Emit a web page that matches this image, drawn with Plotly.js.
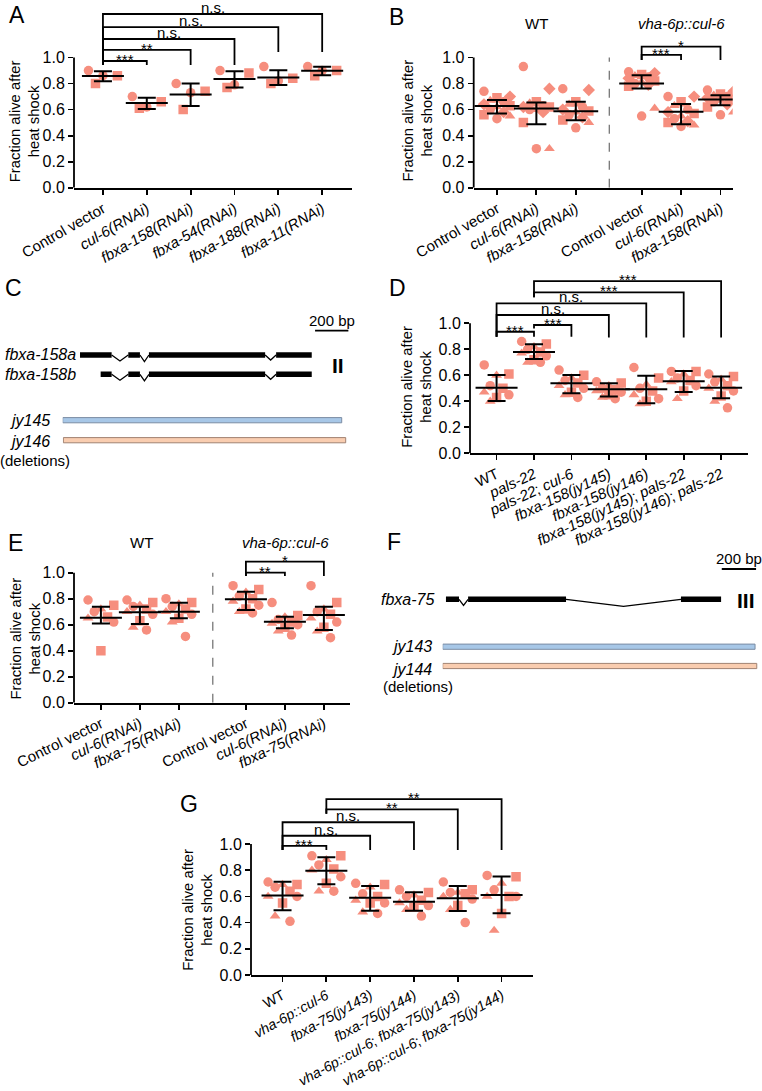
<!DOCTYPE html>
<html><head><meta charset="utf-8">
<script src="https://cdn.plot.ly/plotly-3.0.1.min.js"></script>
<style>body{margin:0;background:#fff}</style>
</head><body><div id="chart" style="width:762px;height:1091px"></div>
<script>
// ---------------- DATA ----------------
// Panel A
const A_labels = ['Control vector','<i>cul-6(RNAi)</i>','<i>fbxa-158(RNAi)</i>','<i>fbxa-54(RNAi)</i>','<i>fbxa-188(RNAi)</i>','<i>fbxa-11(RNAi)</i>'];
const A_values = [[0.90,0.86,0.86,0.80],[0.70,0.66,0.62,0.61],[0.80,0.74,0.73,0.60],[0.90,0.88,0.79,0.77],[0.93,0.84,0.82,0.80],[0.93,0.90,0.90,0.86]];
const A_center = [0.857,0.650,0.716,0.834,0.847,0.898];
const A_upper  = [0.895,0.691,0.801,0.895,0.903,0.928];
const A_lower  = [0.818,0.604,0.627,0.770,0.788,0.864];
const A_tests = [[0,1,'***'],[0,2,'**'],[0,3,'n.s.'],[0,4,'n.s.'],[0,5,'n.s.']];

// Panel B
const B_labels = ['Control vector','<i>cul-6(RNAi)</i>','<i>fbxa-158(RNAi)</i>','Control vector','<i>cul-6(RNAi)</i>','<i>fbxa-158(RNAi)</i>'];
const B_values = [
  [0.74,0.70,0.69,0.67,0.66,0.64,0.63,0.62,0.60,0.58,0.56,0.55,0.53],
  [0.93,0.76,0.66,0.65,0.63,0.62,0.62,0.60,0.60,0.58,0.50,0.30,0.30],
  [0.76,0.75,0.66,0.64,0.62,0.60,0.59,0.58,0.56,0.54,0.52,0.50,0.46],
  [0.89,0.88,0.87,0.86,0.85,0.84,0.82,0.81,0.80,0.79,0.78,0.61,0.55],
  [0.70,0.70,0.66,0.63,0.60,0.58,0.57,0.55,0.53,0.51,0.50,0.48,0.47],
  [0.75,0.74,0.72,0.71,0.70,0.69,0.68,0.67,0.66,0.64,0.62,0.58,0.56]];
const B_center = [0.627,0.609,0.588,0.800,0.583,0.678];
const B_upper  = [0.673,0.655,0.660,0.864,0.642,0.711];
const B_lower  = [0.570,0.488,0.519,0.762,0.488,0.634];
const B_tests = [[3,4,'***'],[3,5,'*']];

// Panel D
const D_labels = ['WT','<i>pals-22</i>','<i>pals-22</i>; <i>cul-6</i>','<i>fbxa-158(jy145)</i>','<i>fbxa-158(jy146)</i>','<i>fbxa-158(jy145)</i>; <i>pals-22</i>','<i>fbxa-158(jy146)</i>; <i>pals-22</i>'];
const D_values = [
  [0.68,0.61,0.60,0.52,0.50,0.47,0.45,0.43,0.40],
  [0.86,0.84,0.82,0.80,0.78,0.77,0.75,0.72,0.70,0.70],
  [0.64,0.60,0.58,0.56,0.54,0.52,0.50,0.47,0.45,0.43],
  [0.55,0.54,0.52,0.50,0.49,0.48,0.47,0.45,0.43,0.42],
  [0.66,0.58,0.53,0.50,0.48,0.45,0.42,0.40,0.38],
  [0.63,0.63,0.61,0.58,0.56,0.55,0.52,0.48,0.42],
  [0.61,0.59,0.57,0.55,0.52,0.50,0.48,0.44,0.40,0.35]];
const D_center = [0.505,0.779,0.538,0.492,0.492,0.554,0.505];
const D_upper  = [0.603,0.838,0.603,0.538,0.597,0.633,0.590];
const D_lower  = [0.403,0.726,0.462,0.436,0.385,0.472,0.423];
const D_tests = [[0,1,'***'],[1,2,'***'],[0,3,'n.s.'],[0,4,'n.s.'],[1,5,'***'],[1,6,'***']];

// Panel E
const E_labels = ['Control vector','<i>cul-6(RNAi)</i>','<i>fbxa-75(RNAi)</i>','Control vector','<i>cul-6(RNAi)</i>','<i>fbxa-75(RNAi)</i>'];
const E_values = [
  [0.79,0.75,0.72,0.70,0.66,0.65,0.62,0.40],
  [0.79,0.77,0.75,0.74,0.72,0.70,0.68,0.63,0.58,0.56],
  [0.80,0.77,0.76,0.74,0.72,0.70,0.68,0.65,0.62,0.51],
  [0.90,0.87,0.85,0.82,0.80,0.78,0.75,0.72,0.70,0.69],
  [0.77,0.67,0.66,0.64,0.62,0.61,0.60,0.58,0.55,0.52],
  [0.90,0.77,0.72,0.70,0.68,0.65,0.62,0.58,0.55,0.50]];
const E_center = [0.654,0.695,0.700,0.795,0.623,0.674];
const E_upper  = [0.738,0.738,0.769,0.854,0.662,0.738];
const E_lower  = [0.610,0.605,0.649,0.713,0.572,0.559];
const E_tests = [[3,4,'**'],[3,5,'*']];

// Panel G
const G_labels = ['WT','<i>vha-6p::cul-6</i>','<i>fbxa-75(jy143)</i>','<i>fbxa-75(jy144)</i>','<i>vha-6p::cul-6</i>; <i>fbxa-75(jy143)</i>','<i>vha-6p::cul-6</i>; <i>fbxa-75(jy144)</i>'];
const G_values = [
  [0.71,0.69,0.69,0.67,0.64,0.60,0.60,0.55,0.45,0.41],
  [0.91,0.91,0.88,0.84,0.81,0.80,0.75,0.70,0.64,0.64],
  [0.70,0.69,0.67,0.62,0.60,0.57,0.55,0.55,0.48,0.47],
  [0.65,0.63,0.61,0.60,0.57,0.55,0.53,0.52,0.50,0.45],
  [0.71,0.65,0.63,0.63,0.62,0.60,0.58,0.53,0.50,0.40],
  [0.76,0.75,0.70,0.65,0.60,0.60,0.60,0.47,0.34]];
const G_center = [0.606,0.796,0.590,0.560,0.585,0.611];
const G_upper  = [0.712,0.898,0.679,0.631,0.679,0.751];
const G_lower  = [0.494,0.692,0.491,0.491,0.489,0.471];
const G_tests = [[0,1,'***'],[0,2,'n.s.'],[0,3,'n.s.'],[1,4,'**'],[1,5,'**']];

// Gene diagrams (bp)
const C_exonsA = [[104,294],[394,464],[518,1216],[1282,1496]];
const C_exonsB = [[228,294],[394,464],[518,1216],[1282,1496]];
const C_introns = [[294,394],[464,518],[1216,1282]];
const C_deletions = [[0,1676],[4,1700]];
const C_deletionNames = ['jy145','jy146'];
const F_exons = [[19,95],[148,719],[1389,1623]];
const F_introns = [[95,148],[719,1389]];
const F_deletions = [[0,1821],[0,1831]];
const F_deletionNames = ['jy143','jy144'];
const SCALE_BP = 200;

// ---------------- LAYOUT HELPERS ----------------
const W=762,H=1091;
const px = v=>v/W, py = v=>1-v/H;
const FONT = 'Liberation Sans, Arial, sans-serif';
const PT = '#F68E7E';
const FS = 15;
const traces=[], shapes=[], annotations=[];
const layout = {width:W,height:H,margin:{l:0,r:0,t:0,b:0},paper_bgcolor:'#fff',plot_bgcolor:'rgba(0,0,0,0)',
  showlegend:false,font:{family:FONT,size:FS,color:'#000'},shapes,annotations};

const JIT = [-0.33,0.33,0,-0.17,0.17,-0.33,0.33,0,-0.17,0.17,-0.33,0.33,0];

function panel(p){
  const xa=p.xa, ya=p.ya;
  const xs=[], ys=[], sy=[];
  p.values.forEach((vals,g)=>vals.forEach((v,j)=>{
    xs.push(p.xPos[g]+JIT[j%JIT.length]*p.jit); ys.push(v); sy.push(p.symbols[j%p.symbols.length]);
  }));
  traces.push({type:'scatter',mode:'markers',x:xs,y:ys,xaxis:xa,yaxis:ya,hoverinfo:'skip',
    marker:{color:PT,size:9.5,symbol:sy,line:{width:0}}});
  traces.push({type:'scatter',mode:'markers',x:p.xPos,y:p.center,xaxis:xa,yaxis:ya,hoverinfo:'skip',
    marker:{symbol:'line-ew',size:p.meanW,color:'#000',line:{width:2,color:'#000'}},
    error_y:{type:'data',symmetric:false,array:p.upper.map((u,i)=>u-p.center[i]),
      arrayminus:p.center.map((c,i)=>c-p.lower[i]),color:'#000',thickness:2,width:p.capW}});
  const n = xa==='x'?'':xa.slice(1);
  layout['xaxis'+n] = {domain:[px(p.xPx[0]),px(p.xPx[1])],range:p.xRange,anchor:ya,
    tickvals:p.xPos,ticktext:p.labels,tickangle:p.angle,ticks:'outside',ticklen:5,tickwidth:1.8,tickcolor:'#000',
    showline:true,linewidth:1.8,linecolor:'#000',showgrid:false,zeroline:false,
    tickfont:{family:FONT,size:p.tickSize||15,color:'#000'},fixedrange:true};
  layout['yaxis'+n] = {domain:[py(p.y0),py(p.y0-p.yMax*p.unit)],range:[0,p.yMax],anchor:xa,
    tickvals:[0,0.2,0.4,0.6,0.8,1.0],ticktext:['0.0','0.2','0.4','0.6','0.8','1.0'],
    ticks:'outside',ticklen:5,tickwidth:1.8,tickcolor:'#000',showline:false,showgrid:false,zeroline:false,
    tickfont:{family:FONT,size:16,color:'#000'},fixedrange:true};
  shapes.push({type:'line',xref:xa+' domain',yref:ya,x0:0,x1:0,y0:0,y1:1,line:{width:1.8,color:'#000'}});
  p.brackets.forEach((b,i)=>{
    const t=p.tests[i]; const a=p.xPos[t[0]], c=p.xPos[t[1]];
    shapes.push({type:'path',xref:xa,yref:ya,path:`M ${a},${b[1]} L ${a},${b[0]} L ${c},${b[0]} L ${c},${b[2]}`,
      line:{width:1.8,color:'#000'}});
    const star = t[2]!=='n.s.';
    annotations.push({xref:xa,yref:ya,x:(a+c)/2,y:b[0],text:t[2],showarrow:false,yanchor:'bottom',
      yshift: star?-9:-4,font:{size:15}});
  });
  if(p.divider!==undefined){
    shapes.push({type:'line',xref:xa,yref:ya,x0:p.divider,x1:p.divider,y0:0,y1:1,line:{width:1.3,color:'#777',dash:'dash'}});
  }
  annotations.push({xref:'paper',yref:'paper',x:px(p.titleX),y:py(p.titleY),text:'Fraction alive after<br>heat shock',
    textangle:-90,showarrow:false,xanchor:'center',yanchor:'middle',font:{size:14.8}});
}
function letter(t,x,y){annotations.push({xref:'paper',yref:'paper',x:px(x),y:py(y),text:t,showarrow:false,xanchor:'center',yanchor:'middle',font:{size:23}});}
function label(t,x,y,anchor,opts){annotations.push(Object.assign({xref:'paper',yref:'paper',x:px(x),y:py(y),text:t,showarrow:false,xanchor:anchor||'center',yanchor:'middle',font:{size:FS}},opts||{}));}

// Panel A
panel({xa:'x',ya:'y',labels:A_labels,values:A_values,center:A_center,upper:A_upper,lower:A_lower,tests:A_tests,
  xPos:[0,1,2,3,4,5],xPx:[74,352],xRange:[-0.66,5.68],y0:187.7,unit:130.2,yMax:1.40,angle:-30,jit:1,
  symbols:['circle','square'],meanW:30,capW:9,titleX:24.5,titleY:121.7,
  brackets:[[0.973,0.942,0.942],[1.058,0.942,0.942],[1.142,0.942,0.942],[1.234,0.942,1.042],[1.334,0.942,1.042]]});
// Panel B
panel({xa:'x2',ya:'y2',labels:B_labels,values:B_values,center:B_center,upper:B_upper,lower:B_lower,tests:B_tests,
  xPos:[0,1,2,3.67,4.67,5.67],xPx:[473.7,732.7],xRange:[-0.59,5.98],y0:187.7,unit:130.2,yMax:1.40,angle:-30,jit:1,
  symbols:['circle','diamond','square','triangle-up'],meanW:32,capW:10,titleX:416.5,titleY:120,divider:2.85,
  brackets:[[1.02,0.98,0.98],[1.083,0.98,0.98]]});
// Panel D
panel({xa:'x3',ya:'y3',labels:D_labels,values:D_values,center:D_center,upper:D_upper,lower:D_lower,tests:D_tests,
  xPos:[0,1,2,3,4,5,6],xPx:[470,747.7],xRange:[-0.71,6.71],y0:453.3,unit:130,yMax:1.42,angle:-25,jit:1,
  symbols:['circle','square','triangle-up'],meanW:30,capW:9,titleX:416.8,titleY:387,
  brackets:[[0.935,0.897,0.897],[0.987,0.96,0.897],[1.064,0.897,0.89],[1.154,0.897,0.89],[1.238,1.20,0.89],[1.325,1.20,0.89]]});
// Panel E
panel({xa:'x4',ya:'y4',labels:E_labels,values:E_values,center:E_center,upper:E_upper,lower:E_lower,tests:E_tests,
  xPos:[0,1,2,3.72,4.72,5.72],xPx:[74,350],xRange:[-0.69,6.39],y0:702.7,unit:130,yMax:1.30,angle:-26,jit:1,
  symbols:['circle','square','triangle-up'],meanW:30,capW:9,titleX:24.5,titleY:639,divider:2.87,
  brackets:[[1.0,0.974,0.974],[1.085,0.974,0.974]]});
// Panel G
panel({xa:'x5',ya:'y5',labels:G_labels,values:G_values,center:G_center,upper:G_upper,lower:G_lower,tests:G_tests,
  xPos:[0,1,2,3,4,5],xPx:[251,532.7],xRange:[-0.72,5.71],y0:975,unit:131,yMax:1.42,angle:-29,jit:1,tickSize:14.3,
  symbols:['circle','square','triangle-up'],meanW:30,capW:9,titleX:196.7,titleY:910,
  brackets:[[0.985,0.954,0.954],[1.063,0.954,0.954],[1.166,0.954,0.954],[1.265,1.23,0.954],[1.343,1.23,0.954]]});

// group headers
label('WT',536,24); label('<i>vha-6p::cul-6</i>',681,24);
label('WT',141.7,542); label('<i>vha-6p::cul-6</i>',285,542);

// letters
letter('A',16.7,15); letter('B',396,16.7); letter('C',13,288); letter('D',397.7,288);
letter('E',15,543); letter('F',394,541.7); letter('G',189.3,804);

// ---------- gene diagrams ----------
function geneAxis(n,x0px,bpPerPx,maxBp){
  layout['xaxis'+n]={domain:[px(x0px),px(x0px+maxBp/bpPerPx)],range:[0,maxBp],visible:false,anchor:'y'+n,fixedrange:true};
  layout['yaxis'+n]={domain:[0,1],range:[0,1],visible:false,anchor:'x'+n,fixedrange:true};
  traces.push({type:'scatter',x:[],y:[],xaxis:'x'+n,yaxis:'y'+n,hoverinfo:'skip'});
}
function gene(xa,exons,introns,yPx,dips){
  exons.forEach(e=>shapes.push({type:'line',xref:xa,yref:'paper',x0:e[0],x1:e[1],y0:py(yPx),y1:py(yPx),line:{width:5.5,color:'#000'}}));
  introns.forEach((it,i)=>{const m=(it[0]+it[1])/2;
    shapes.push({type:'path',xref:xa,yref:'paper',path:`M ${it[0]},${py(yPx)} L ${m},${py(yPx+dips[i])} L ${it[1]},${py(yPx)}`,line:{width:1.3,color:'#000'}});});
}
function delBar(xa,d,yPx,fill,edge){
  shapes.push({type:'rect',xref:xa,yref:'paper',x0:d[0],x1:d[1],y0:py(yPx-2.6),y1:py(yPx+2.6),fillcolor:fill,line:{width:1,color:edge}});
}
function scaleBar(xa,start,yPx){
  shapes.push({type:'line',xref:xa,yref:'paper',x0:start,x1:start+SCALE_BP,y0:py(yPx),y1:py(yPx),line:{width:1.8,color:'#000'}});
}
// C
geneAxis(6,62.7,6.007,1800);
gene('x6',C_exonsA,C_introns,355,[6,6.5,5]);
gene('x6',C_exonsB,C_introns,374.3,[6,6.5,5]);
delBar('x6',C_deletions[0],420.2,'#A7C7E7','#7B8CA3');
delBar('x6',C_deletions[1],440.2,'#F9CDB0','#A08272');
scaleBar('x6',1516,330.7);
label('200 bp',331.7,320);
label('<i>fbxa-158a</i>',78,354,'right',{font:{size:16}});
label('<i>fbxa-158b</i>',78,374.3,'right',{font:{size:16}});
label('II',338,365,'center',{text:'<b>II</b>',font:{size:21}});
label('<i>'+C_deletionNames[0]+'</i>',52,420,'right',{font:{size:16}});
label('<i>'+C_deletionNames[1]+'</i>',52,441.7,'right',{font:{size:16}});
label('(deletions)',35,460.7);
// F
geneAxis(7,442.7,5.83,1850);
gene('x7',F_exons,F_introns,599.3,[6,7]);
delBar('x7',F_deletions[0],646.7,'#A7C7E7','#7B8CA3');
delBar('x7',F_deletions[1],666,'#F9CDB0','#A08272');
scaleBar('x7',1627,569);
label('200 bp',739,558);
label('<i>fbxa-75</i>',436,599.3,'right',{font:{size:16}});
label('III',746,600,'center',{text:'<b>III</b>',font:{size:21}});
label('<i>'+F_deletionNames[0]+'</i>',434.3,646.7,'right',{font:{size:16}});
label('<i>'+F_deletionNames[1]+'</i>',434.3,669,'right',{font:{size:16}});
label('(deletions)',418.3,686.7);

Plotly.newPlot('chart',traces,layout,{staticPlot:true});
</script></body></html>
